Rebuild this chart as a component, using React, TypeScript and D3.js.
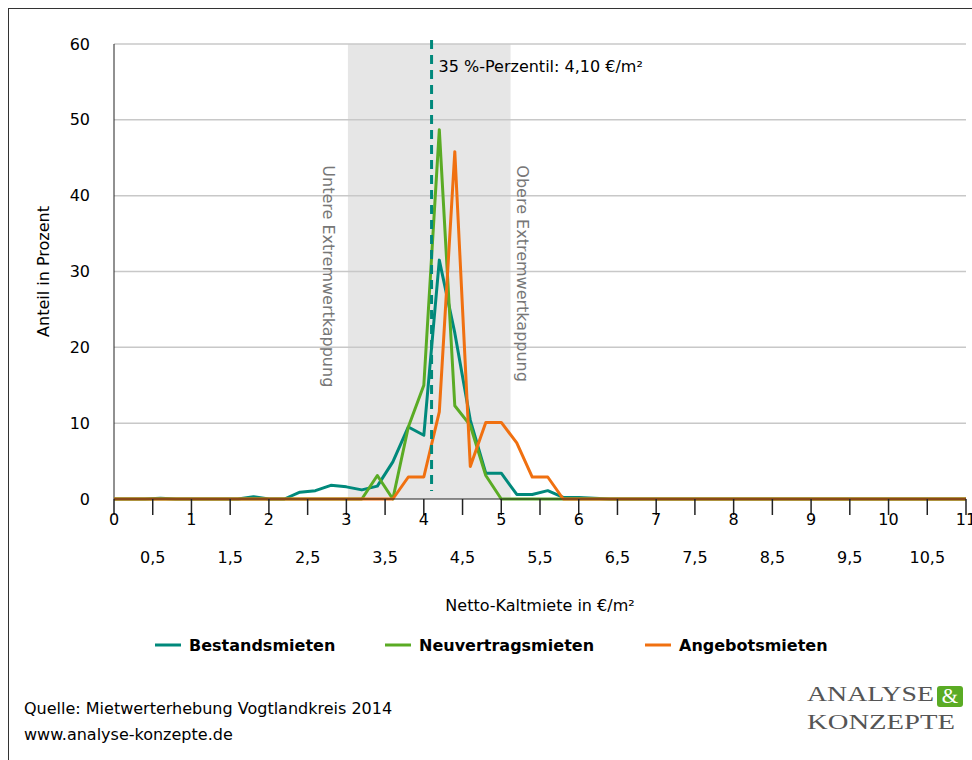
import React from 'react';
import * as d3 from 'd3';

const steps = d3.range(0, 11.01, 0.2).map(v => +v.toFixed(1));
// non-zero values, keyed by x (€/m²)
const bestand: [number, number][] = [[0.6, 0.1], [1.8, 0.3], [2.4, 0.9], [2.6, 1.1], [2.8, 1.8], [3.0, 1.6], [3.2, 1.2], [3.4, 1.7], [3.6, 4.9], [3.8, 9.5], [4.0, 8.4], [4.2, 31.5], [4.4, 21.9], [4.6, 10.4], [4.8, 3.4], [5.0, 3.4], [5.2, 0.6], [5.4, 0.6], [5.6, 1.1], [5.8, 0.2], [6.0, 0.2], [6.2, 0.1]];
const neuvertrag: [number, number][] = [[3.4, 3.1], [3.8, 9.5], [4.0, 15.0], [4.2, 48.7], [4.4, 12.3], [4.6, 9.7], [4.8, 3.1]];
const angebot: [number, number][] = [[3.8, 2.9], [4.0, 2.9], [4.2, 11.5], [4.4, 45.8], [4.6, 4.3], [4.8, 10.1], [5.0, 10.1], [5.2, 7.4], [5.4, 2.9], [5.6, 2.9]];
const seriesNames = ['Bestandsmieten', 'Neuvertragsmieten', 'Angebotsmieten'];
const colors = ['#00897b', '#5aab24', '#f07010'];
const yTicks = [0, 10, 20, 30, 40, 50, 60];
const band = [3.02, 5.12];
const percentile = 4.1;

const full = (pts: [number, number][]) => steps.map(s => {
  const f = pts.find(p => Math.abs(p[0] - s) < 1e-6);
  return [s, f ? f[1] : 0] as [number, number];
});

const font = 'Tahoma, "DejaVu Sans", sans-serif';
const fs = 16;

export default function App() {
  const x = d3.scaleLinear().domain([0, 11]).range([114, 966]);
  const y = d3.scaleLinear().domain([0, 60]).range([499, 44]);
  const line = d3.line<[number, number]>().x(d => x(d[0])).y(d => y(d[1]));
  const data = [bestand, neuvertrag, angebot].map(full);
  const ints = d3.range(0, 12);
  const halves = d3.range(0.5, 11, 1);
  return (
    <svg width={972} height={760} style={{ position: 'absolute', left: 0, top: 0, fontFamily: font }}>
      <rect x={0} y={0} width={972} height={760} fill="#fff" />
      <rect x={8.5} y={8.5} width={1000} height={800} fill="none" stroke="#333" />
      <rect x={x(band[0])} y={y(60)} width={x(band[1]) - x(band[0])} height={y(0) - y(60)} fill="#e6e6e6" />
      {yTicks.slice(1).map(t => <line key={t} x1={x(0)} x2={966} y1={y(t)} y2={y(t)} stroke="#c8c8c8" strokeWidth={1.5} />)}
      {yTicks.map(t => <text key={t} x={90} y={y(t)} dy="0.35em" textAnchor="end" fontSize={fs}>{t}</text>)}
      <line x1={x(0)} x2={x(0)} y1={y(60)} y2={y(0)} stroke="#222" />
      <text transform={`translate(49,${y(30)}) rotate(-90)`} textAnchor="middle" fontSize={fs}>Anteil in Prozent</text>
      <text transform={`translate(${x(band[0]) - 25},${y(44)}) rotate(90)`} fontSize={fs} fill="#777">Untere Extremwertkappung</text>
      <text transform={`translate(${x(band[1]) + 6},${y(44)}) rotate(90)`} fontSize={fs} fill="#777">Obere Extremwertkappung</text>
      {data.map((d, i) => <path key={i} d={line(d) || ''} fill="none" stroke={colors[i]} strokeWidth={3} strokeLinejoin="round" />)}
      <line x1={x(percentile)} x2={x(percentile)} y1={y(60) - 4} y2={y(0) - 8} stroke="#00897b" strokeWidth={3} strokeDasharray="9,6" />
      <text x={x(percentile) + 7} y={y(56.3)} fontSize={fs}>35 %-Perzentil: 4,10 €/m²</text>
      <line x1={x(0)} x2={966} y1={y(0)} y2={y(0)} stroke="#222" />
      {ints.concat(halves).map(t => <line key={t} x1={x(t)} x2={x(t)} y1={y(0)} y2={y(0) + 16} stroke="#222" strokeWidth={1.5} />)}
      {ints.map(t => <text key={t} x={x(t)} y={525} textAnchor="middle" fontSize={fs}>{t}</text>)}
      {halves.map(t => <text key={t} x={x(t)} y={563} textAnchor="middle" fontSize={fs}>{String(t).replace('.', ',')}</text>)}
      <text x={540} y={611} textAnchor="middle" fontSize={fs}>Netto-Kaltmiete in €/m²</text>
      {seriesNames.map((n, i) => {
        const lx = [155, 385, 645][i];
        return <g key={n}>
          <line x1={lx} x2={lx + 26} y1={645} y2={645} stroke={colors[i]} strokeWidth={3} />
          <text x={lx + 34} y={645} dy="0.35em" fontSize={fs} fontWeight="bold">{n}</text>
        </g>;
      })}
      <text x={24} y={714} fontSize={fs}>Quelle: Mietwerterhebung Vogtlandkreis 2014</text>
      <text x={24} y={740} fontSize={fs}>www.analyse-konzepte.de</text>
      <text x={807} y={701} fontSize={22} fill="#555" fontFamily="'Liberation Serif', serif" textLength={127} lengthAdjust="spacingAndGlyphs">ANALYSE</text>
      <rect x={937} y={686} width={26} height={21} rx={3} fill="#5aab24" />
      <text x={950} y={703} textAnchor="middle" fontSize={21} fill="#fff" fontFamily="'Liberation Serif', serif">&amp;</text>
      <text x={807} y={729} fontSize={22} fill="#555" fontFamily="'Liberation Serif', serif" textLength={148} lengthAdjust="spacingAndGlyphs">KONZEPTE</text>
    </svg>
  );
}
